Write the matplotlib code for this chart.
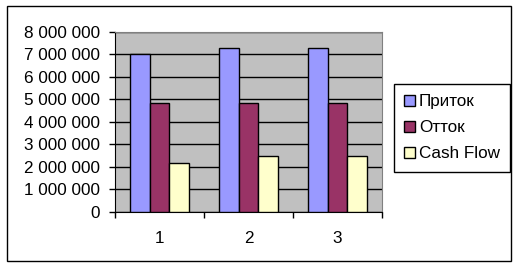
import numpy as np
import matplotlib.pyplot as plt
from matplotlib.patches import Rectangle
from matplotlib.ticker import FuncFormatter

categories = ['1', '2', '3']
inflow = [7000000, 7300000, 7300000]
outflow = [4850000, 4850000, 4850000]
cash_flow = [2170000, 2490000, 2490000]
series_names = ['Приток', 'Отток', 'Cash Flow']
colors = ['#9999FF', '#993366', '#FFFFCC']

plt.rcParams['font.family'] = ['Liberation Sans', 'DejaVu Sans']

W, H = 518, 266
fig = plt.figure(figsize=(W / 100, H / 100), dpi=100)

# рамка вокруг всей диаграммы
fig.patches.append(Rectangle((7 / W, 1 - 261 / H), 504 / W, 255 / H,
                             transform=fig.transFigure, fill=False,
                             edgecolor='black', linewidth=1))

ax = fig.add_axes([115 / W, 1 - 211.5 / H, 267 / W, 179.5 / H])
ax.set_facecolor('#C0C0C0')

x = np.arange(len(categories))
bw = 1 / 4.6
for i, (vals, name, c) in enumerate(zip([inflow, outflow, cash_flow], series_names, colors)):
    ax.bar(x + (i - 1) * bw, vals, width=bw, color=c, edgecolor='black',
           linewidth=1, label=name, zorder=3)

ax.set_xlim(-0.5, 2.5)
ax.set_ylim(0, 8000000)
ax.set_yticks(np.arange(0, 8000001, 1000000))
ax.yaxis.set_major_formatter(FuncFormatter(lambda v, p: f'{int(v):,}'.replace(',', ' ')))
ax.grid(axis='y', color='black', linewidth=1, zorder=1)

fs = 12.3
ax.set_xticks(x)
ax.set_xticklabels(categories)
ax.set_xticks([-0.5, 0.5, 1.5, 2.5], minor=True)
ax.tick_params(axis='x', which='major', length=0, pad=14, labelsize=fs)
ax.tick_params(axis='x', which='minor', length=4, width=1, direction='out')
ax.tick_params(axis='y', length=4, width=1, direction='out', pad=7, labelsize=fs)

for side in ['top', 'right']:
    ax.spines[side].set_color('#808080')
for side in ['left', 'bottom']:
    ax.spines[side].set_color('black')

leg = fig.legend(loc='upper left', bbox_to_anchor=(394 / W, 1 - 84 / H),
                 bbox_transform=fig.transFigure, fancybox=False,
                 edgecolor='black', framealpha=1, fontsize=fs,
                 handlelength=0.6, handleheight=0.6, handletextpad=0.25,
                 borderpad=0.6, labelspacing=0.65, borderaxespad=0)
leg.get_frame().set_linewidth(1)

fig.savefig('out.png', dpi=100)
